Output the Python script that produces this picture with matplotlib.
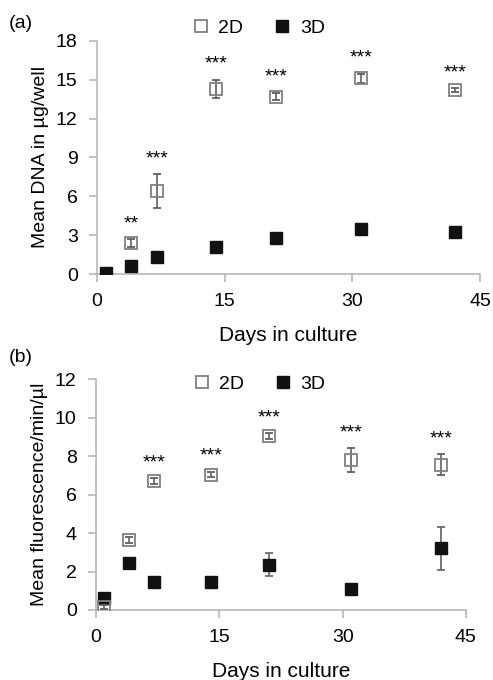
import matplotlib
matplotlib.use("Agg")
import matplotlib.pyplot as plt
from matplotlib.lines import Line2D

plt.rcParams['font.family'] = ['Liberation Sans', 'DejaVu Sans']

# panel (a): DNA content
days_a = [1, 4, 7, 14, 21, 31, 42]
dna_2d = [None, 2.4, 6.4, 14.3, 13.7, 15.1, 14.2]
dna_2d_err = [None, 0.3, 1.3, 0.7, 0.3, 0.35, 0.15]
dna_3d = [0.1, 0.6, 1.35, 2.05, 2.8, 3.5, 3.25]
dna_3d_err = [0.05, 0.1, 0.1, 0.1, 0.1, 0.1, 0.1]
stars_a = ['', '**', '***', '***', '***', '***', '***']

# panel (b): fluorescence
days_b = [1, 4, 7, 14, 21, 31, 42]
fl_2d = [0.15, 3.65, 6.7, 7.05, 9.05, 7.8, 7.55]
fl_2d_err = [0.1, 0.15, 0.15, 0.15, 0.15, 0.63, 0.55]
fl_3d = [0.6, 2.45, 1.45, 1.45, 2.35, 1.1, 3.2]
fl_3d_err = [0.05, 0.05, 0.05, 0.05, 0.6, 0.05, 1.13]
stars_b = ['', '', '***', '***', '***', '***', '***']

AXC = '#b8b8b8'
ERRC = '#606060'
FS = 14


def draw_panel(ax, days, v2, e2, v3, e3, stars, ymax, ystep, ylabel):
    x2 = [d for d, v in zip(days, v2) if v is not None]
    y2 = [v for v in v2 if v is not None]
    ee2 = [e for e in e2 if e is not None]
    ax.errorbar(days, v3, yerr=e3, fmt='s', ms=9, mfc='#111111', mec='#111111',
                ecolor=ERRC, elinewidth=1.2, capsize=3, capthick=1.2, zorder=3)
    ax.errorbar(x2, y2, yerr=ee2, fmt='s', ms=9, mfc='none', mec='#808080',
                mew=1.3, ecolor=ERRC, elinewidth=1.2, capsize=3, capthick=1.2,
                zorder=4)
    for d, v, e, s in zip(days, v2, e2, stars):
        if s and v is not None:
            ax.annotate(s, (d, v + e), xytext=(0, 5), textcoords='offset points',
                        ha='center', va='bottom', fontsize=14)
    ax.set_xlim(0, 45)
    ax.set_ylim(0, ymax)
    ax.set_xticks([0, 15, 30, 45])
    ax.set_yticks(list(range(0, ymax + 1, ystep)))
    for sp in ['top', 'right']:
        ax.spines[sp].set_visible(False)
    for sp in ['left', 'bottom']:
        ax.spines[sp].set_color(AXC)
        ax.spines[sp].set_linewidth(1.2)
    ax.tick_params(axis='both', colors=AXC, labelcolor='black', labelsize=FS,
                   length=6, width=1.2, direction='out', pad=8)
    ax.set_xlabel('Days in culture', fontsize=15, labelpad=11)
    ax.set_ylabel(ylabel, fontsize=FS, labelpad=5)


def legend_handles():
    h2 = Line2D([], [], ls='none', marker='s', ms=9, mfc='none', mec='#808080', mew=1.3)
    h3 = Line2D([], [], ls='none', marker='s', ms=9, mfc='#111111', mec='#111111')
    return [h2, h3], ['2D', '3D']


fig = plt.figure(figsize=(4.93, 6.8), dpi=100)
ax1 = fig.add_axes([0.197, 0.597, 0.777, 0.343])
ax2 = fig.add_axes([0.195, 0.103, 0.75, 0.339])

draw_panel(ax1, days_a, dna_2d, dna_2d_err, dna_3d, dna_3d_err, stars_a,
           18, 3, 'Mean DNA in \u00b5g/well')
h, l = legend_handles()
ax1.legend(h, l, loc='center', bbox_to_anchor=(0.42, 1.055), ncol=2, frameon=False,
           fontsize=FS, handlelength=1.0, handletextpad=0.4, columnspacing=1.5)

draw_panel(ax2, days_b, fl_2d, fl_2d_err, fl_3d, fl_3d_err, stars_b,
           12, 2, 'Mean fluorescence/min/\u00b5l')
ax2.legend(h, l, loc='center', bbox_to_anchor=(0.44, 0.98), ncol=2, frameon=False,
           fontsize=FS, handlelength=1.0, handletextpad=0.4, columnspacing=1.5)

fig.text(0.018, 1 - 24 / 680, '(a)', fontsize=FS, va='center')
fig.text(0.018, 1 - 357 / 680, '(b)', fontsize=FS, va='center')

fig.savefig('out.png', dpi=100)
